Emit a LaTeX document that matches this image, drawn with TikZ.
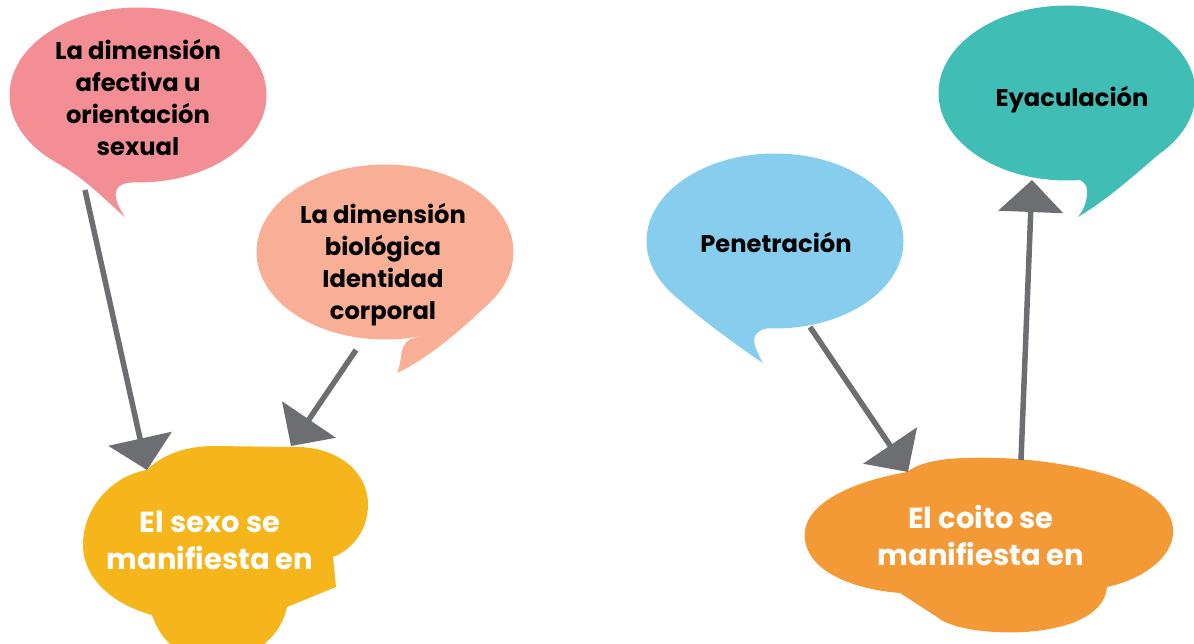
\documentclass[tikz,border=0pt]{standalone}
\usepackage{fontspec}
\setmainfont{Poppins}
\usetikzlibrary{arrows.meta,shapes.geometric}
\definecolor{pinkc}{HTML}{F28E94}
\definecolor{salmonc}{HTML}{F9AE96}
\definecolor{yellowc}{HTML}{F6B51A}
\definecolor{orangec}{HTML}{F39A36}
\definecolor{bluec}{HTML}{87CEEE}
\definecolor{tealc}{HTML}{40BDB5}
\definecolor{grayc}{HTML}{6D6E71}
\begin{document}
\begin{tikzpicture}[x=1pt,y=-1pt,
  bubble/.style={ellipse,inner sep=0pt,minimum width=257pt,minimum height=175pt},
  btext/.style={align=center,font=\fontsize{24.2}{32}\selectfont\bfseries,text=black},
  wtext/.style={align=center,font=\fontsize{29}{37}\selectfont\bfseries,text=white},
  conn/.style={draw=grayc,line width=5.5pt,-{Triangle[length=32pt,width=64pt]}}]
\useasboundingbox (0,0) rectangle (1194,644);
\clip (0,0) rectangle (1194,644);
% pink bubble
\node[bubble,fill=pinkc] (A) at (138,95) {};
\fill[pinkc] (60,165) .. controls (85,178) and (108,203) .. (125,217)
  .. controls (118,207) and (113,195) .. (117,189)
  .. controls (119,185) and (124,183) .. (134,182) -- cycle;
\node[btext] (Atext) at (138,98) {La dimensión\\afectiva u\\orientación\\sexual};
% salmon bubble
\node[bubble,fill=salmonc] (B) at (385,252) {};
\fill[salmonc] (490,302) .. controls (470,322) and (430,358) .. (397,373)
  .. controls (402,362) and (400,350) .. (405,344)
  .. controls (407,341) and (411,338) .. (418,337) -- cycle;
\node[btext] (Btext) at (383,265) {La dimensión\\biológica\\Identidad\\corporal};
% blue bubble
\node[bubble,fill=bluec] (E) at (775,241) {};
\fill[bluec] (668,289) .. controls (688,310) and (740,348) .. (763,363)
  .. controls (757,352) and (752,342) .. (755,336)
  .. controls (757,331) and (763,329) .. (772,327) -- cycle;
\node[btext] (Etext) at (776,243) {Penetración};
% teal bubble
\node[bubble,fill=tealc] (F) at (1067,93) {};
\fill[tealc] (1080,180) .. controls (1086,183) and (1088,188) .. (1087,195)
  .. controls (1086,205) and (1082,212) .. (1078,217)
  .. controls (1110,198) and (1140,170) .. (1165,149) -- cycle;
\node[btext] (Ftext) at (1072,100) {Eyaculación};
% yellow cloud
\fill[yellowc] (147,470) .. controls (165,452) and (190,446) .. (215,446)
  -- (290,447)
  .. controls (335,445) and (368,470) .. (368,505)
  .. controls (368,530) and (352,550) .. (333,557)
  -- (336,587) -- (287,607)
  .. controls (280,640) and (250,660) .. (215,660)
  .. controls (185,660) and (162,645) .. (152,615)
  .. controls (115,605) and (83,580) .. (83,545)
  .. controls (83,505) and (115,475) .. (147,470) -- cycle;
\node[wtext] (C) at (210,540) {El sexo se\\manifiesta en};
% orange cloud
\fill[orangec] (907,472) .. controls (925,458) and (960,457) .. (1000,458)
  .. controls (1050,460) and (1100,470) .. (1125,481)
  .. controls (1160,495) and (1175,515) .. (1173,535)
  .. controls (1170,560) and (1140,580) .. (1107,587)
  .. controls (1105,610) and (1080,628) .. (1025,632)
  .. controls (985,634) and (950,628) .. (937,617)
  -- (900,593)
  .. controls (860,590) and (810,575) .. (805,540)
  .. controls (800,505) and (850,482) .. (907,472) -- cycle;
\node[wtext] (D) at (981,535) {El coito se\\manifiesta en};
% connectors
\coordinate (a1) at (85,190);  \coordinate (a2) at (147,470);
\coordinate (b1) at (356,350); \coordinate (b2) at (291,446);
\coordinate (e1) at (810,327); \coordinate (e2) at (908,472);
\coordinate (f1) at (1021,460); \coordinate (f2) at (1032,180);
\draw[conn] (a1) -- (a2);
\draw[conn] (b1) -- (b2);
\draw[conn] (e1) -- (e2);
\draw[conn] (f1) -- (f2);
\end{tikzpicture}
\end{document}
